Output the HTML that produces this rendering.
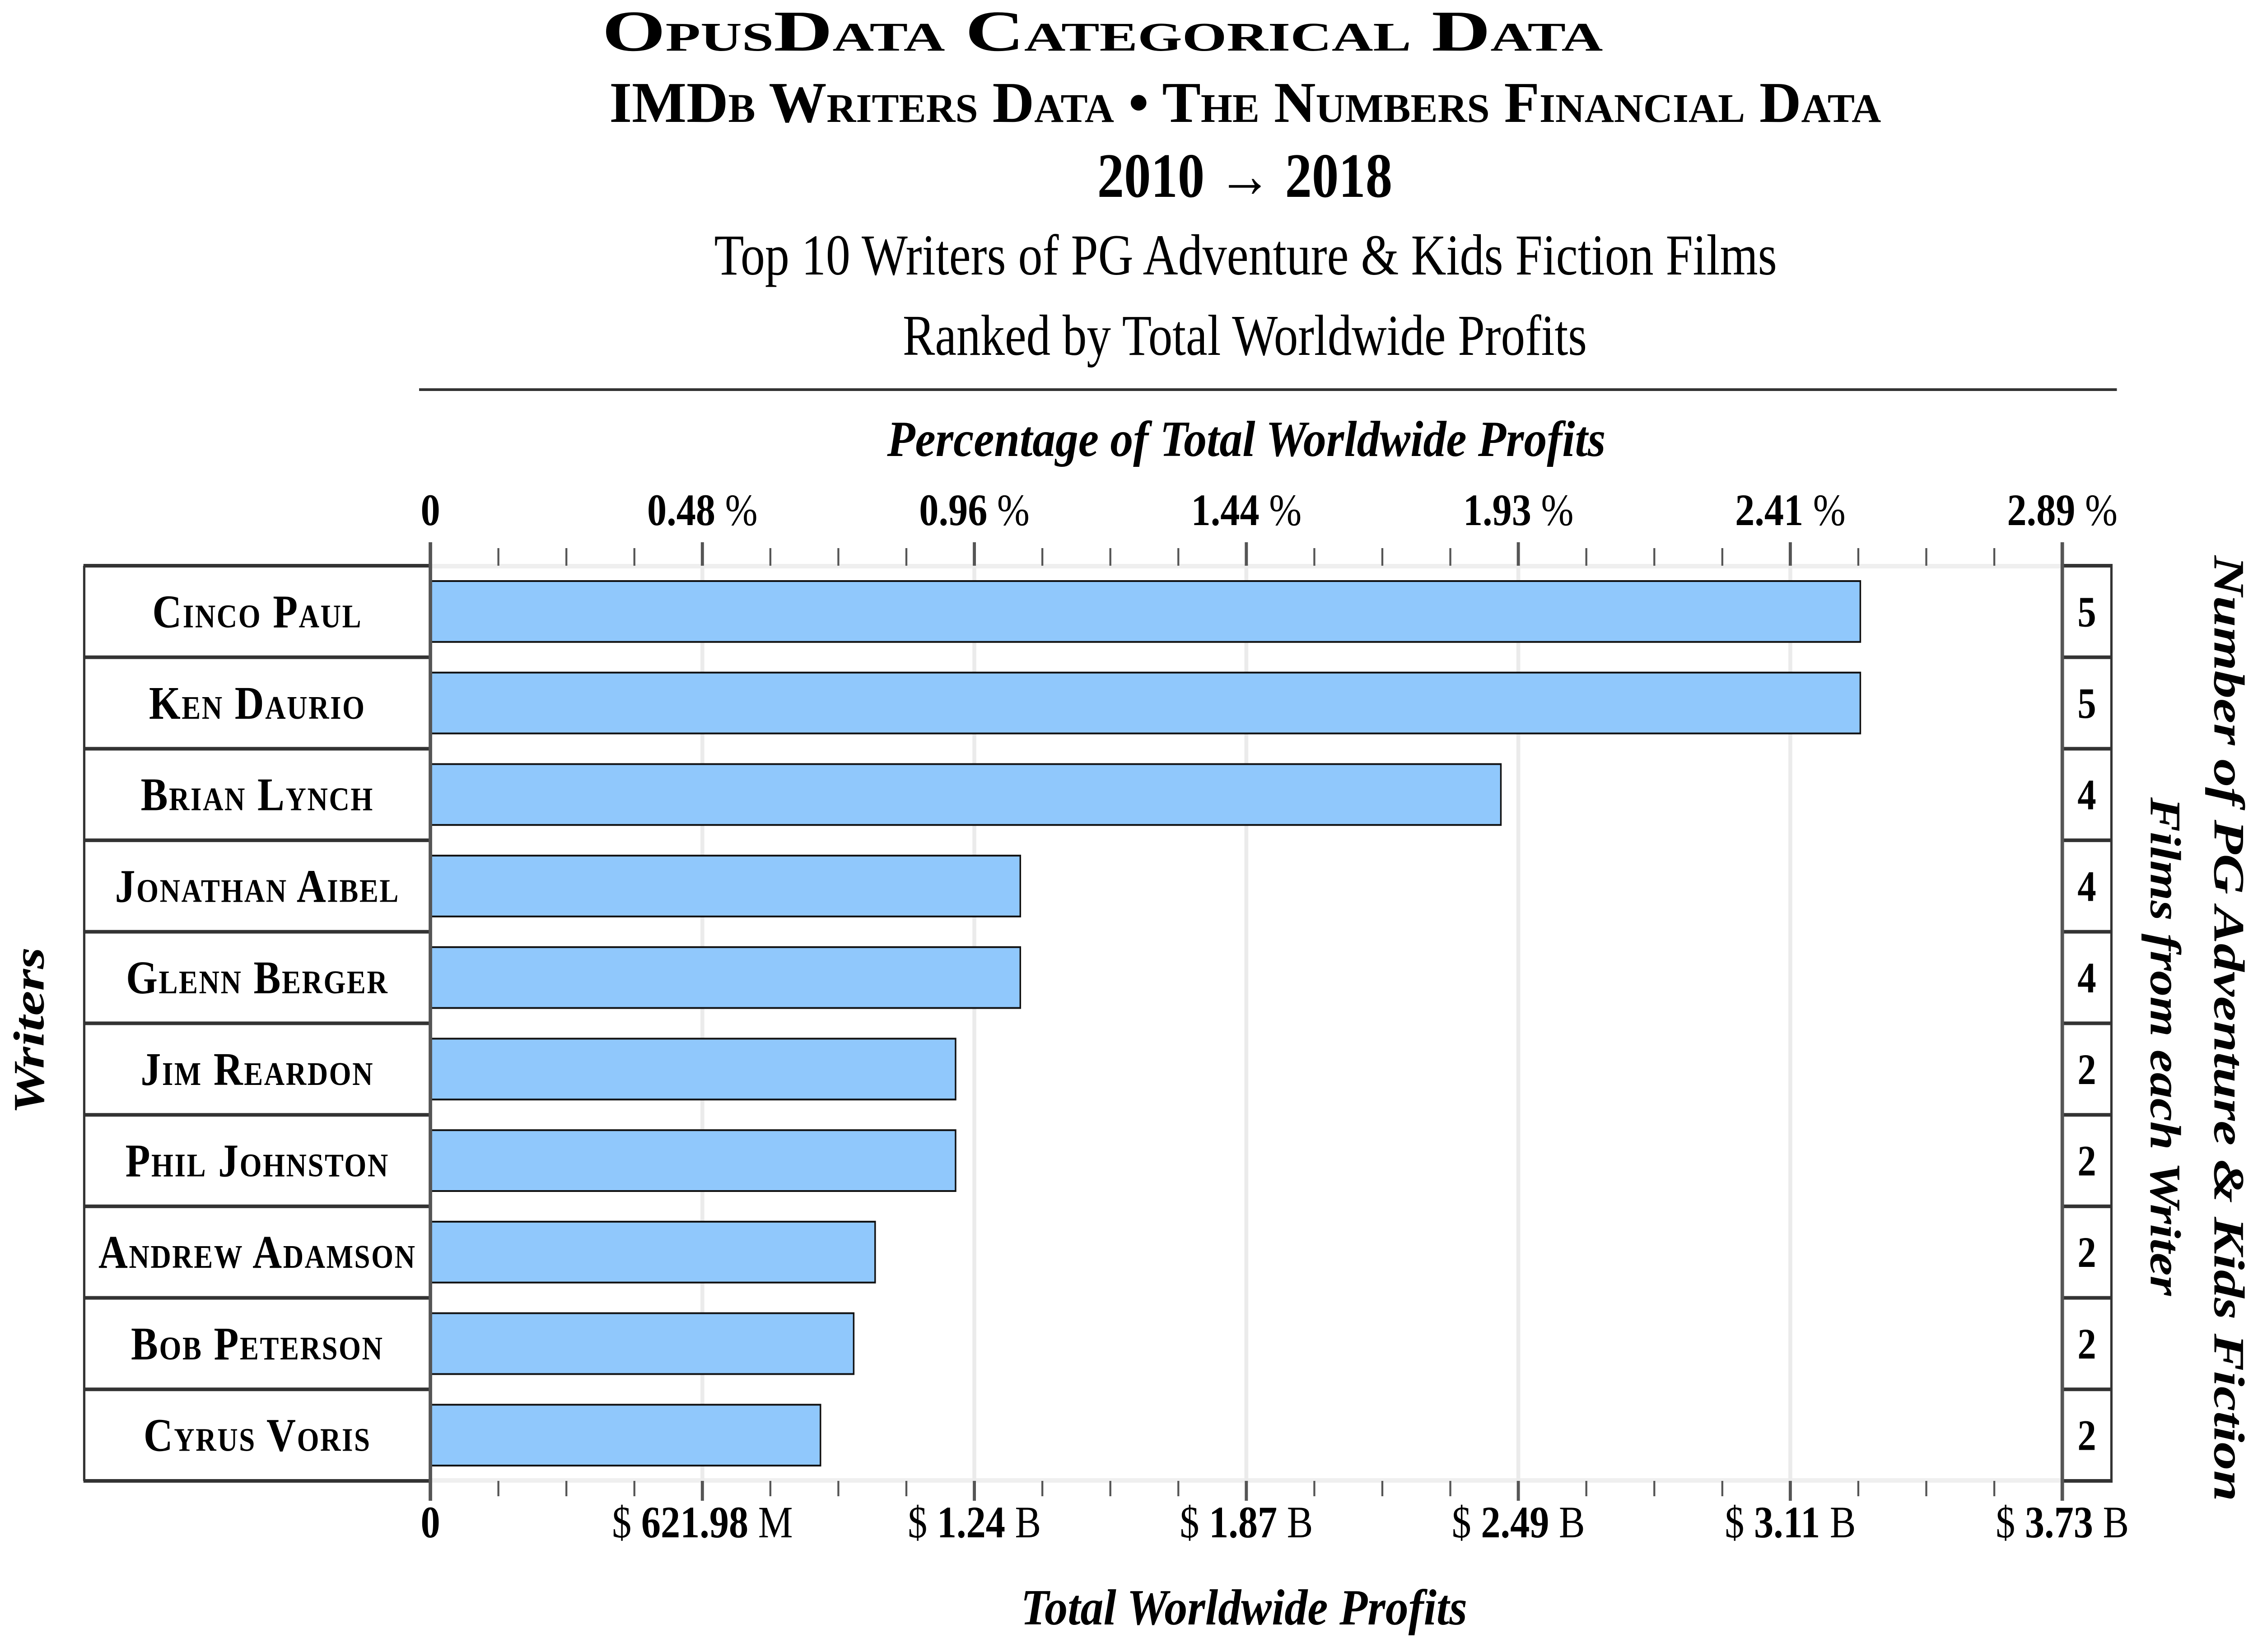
<!DOCTYPE html>
<html><head><meta charset="utf-8"><style>
html,body{margin:0;padding:0;background:#fff;overflow:hidden;width:100vw;height:100vh}
svg{display:block;width:100vw;height:100vh}
text{font-family:"Liberation Serif",serif;fill:#000}
.sc{font-variant:small-caps;font-weight:bold}
</style></head><body>
<svg id="chart" xmlns="http://www.w3.org/2000/svg" viewBox="0 0 5792 3659" preserveAspectRatio="none">
<g>
<text class="sc" x="2828" y="112" font-size="128" text-anchor="middle" textLength="2567" lengthAdjust="spacingAndGlyphs">OpusData Categorical Data</text>
<text class="sc" x="3194" y="270" font-size="128" text-anchor="middle" textLength="3262" lengthAdjust="spacingAndGlyphs">IMDb Writers Data • The Numbers Financial Data</text>
<text x="3193" y="436" font-size="140" font-weight="bold" text-anchor="middle" textLength="757" lengthAdjust="spacingAndGlyphs">2010 → 2018</text>
<text x="3195" y="608" font-size="128" text-anchor="middle" textLength="2726" lengthAdjust="spacingAndGlyphs">Top 10 Writers of PG Adventure &amp; Kids Fiction Films</text>
<text x="3193" y="786" font-size="128" text-anchor="middle" textLength="1755" lengthAdjust="spacingAndGlyphs">Ranked by Total Worldwide Profits</text>
<line x1="1075" y1="863" x2="5430" y2="863" stroke="#333" stroke-width="6"/>
<text x="3197" y="1010" font-size="112" font-weight="bold" font-style="italic" text-anchor="middle" textLength="1843" lengthAdjust="spacingAndGlyphs">Percentage of Total Worldwide Profits</text>
<text x="3191" y="3598" font-size="112" font-weight="bold" font-style="italic" text-anchor="middle" textLength="1145" lengthAdjust="spacingAndGlyphs">Total Worldwide Profits</text>
<text transform="translate(112,2283) rotate(-90)" font-size="112" font-weight="bold" font-style="italic" text-anchor="middle" textLength="370" lengthAdjust="spacingAndGlyphs">Writers</text>
<text transform="translate(5680,2278) rotate(90)" font-size="112" font-weight="bold" font-style="italic" text-anchor="middle" textLength="2095" lengthAdjust="spacingAndGlyphs">Number of PG Adventure &amp; Kids Fiction</text>
<text transform="translate(5517,2318) rotate(90)" font-size="112" font-weight="bold" font-style="italic" text-anchor="middle" textLength="1104" lengthAdjust="spacingAndGlyphs">Films from each Writer</text>
</g>
<g id="plot"></g>
</svg>
<script>
const writers = ["Cinco Paul","Ken Daurio","Brian Lynch","Jonathan Aibel","Glenn Berger","Jim Reardon","Phil Johnston","Andrew Adamson","Bob Peterson","Cyrus Voris"];
const profitsM = [3270,3270,2448,1349,1349,1201,1201,1017,968,892];
const filmCounts = [5,5,4,4,4,2,2,2,2,2];
const bottomTickValuesM = [0,621.98,1243.96,1865.94,2487.92,3109.9,3731.88];
const bottomTickNums = ["0","621.98","1.24","1.87","2.49","3.11","3.73"];
const bottomTickUnits = ["","M","B","B","B","B","B"];
const topTickLabels = ["0","0.48","0.96","1.44","1.93","2.41","2.89"];

const NS="http://www.w3.org/2000/svg";
const g=document.getElementById('plot');
const X0=1104, X1=5290, TOP=1253, BOT=3280, LT=216, RT=5416;
const maxV=bottomTickValuesM[bottomTickValuesM.length-1];
const xs=v=>X0+(v/maxV)*(X1-X0);
const rowH=(BOT-TOP)/writers.length;
const ys=i=>TOP+i*rowH;
function mk(tag,attrs,txt){const e=document.createElementNS(NS,tag);for(const k in attrs)e.setAttribute(k,attrs[k]);if(txt!==undefined)e.textContent=txt;g.appendChild(e);return e;}

let e=mk('rect',{x:X0,y:TOP-4,width:X1-X0,height:10,fill:'#efefef'});


e=mk('rect',{x:X0,y:BOT-6,width:X1-X0,height:10,fill:'#efefef'});


bottomTickValuesM.forEach((v,i)=>{if(i===0||i===bottomTickValuesM.length-1)return;
 const l=mk('line',{x1:xs(v),x2:xs(v),y1:TOP,y2:BOT,stroke:'#ebebeb','stroke-width':10});
 
 });
profitsM.forEach((v,i)=>{
 const b=mk('rect',{x:X0,y:ys(i)+34,width:xs(v)-X0,height:rowH*0.665,fill:'#90c8fc',stroke:'#111','stroke-width':4});
 
 
});
const nMaj=bottomTickValuesM.length-1;
for(let k=0;k<=nMaj*4;k++){
 const v=maxV*k/(nMaj*4), x=xs(v), maj=k%4===0;
 let t=mk('line',{x1:x,x2:x,y1:maj?1201:1214,y2:TOP,stroke:'#555','stroke-width':maj?8:5});
 
 
 t=mk('line',{x1:x,x2:x,y1:BOT,y2:maj?3324:3314,stroke:'#555','stroke-width':maj?8:5});
 
 
}
bottomTickValuesM.forEach((v,i)=>{
 const x=xs(v);
 const tt=mk('text',{x:x,y:1163,'font-size':100,'text-anchor':'middle'});
 
 
 if(i===0){tt.innerHTML='<tspan font-weight="bold">0</tspan>';}
 else tt.innerHTML='<tspan font-weight="bold">'+topTickLabels[i]+'</tspan><tspan> %</tspan>';
 const bt=mk('text',{x:x,y:3405,'font-size':100,'text-anchor':'middle'});
 
 
 if(i===0)bt.innerHTML='<tspan font-weight="bold">0</tspan>';
 else bt.innerHTML='<tspan>$ </tspan><tspan font-weight="bold">'+bottomTickNums[i]+'</tspan><tspan> '+bottomTickUnits[i]+'</tspan>';
});
writers.forEach((w,i)=>{
 const y=ys(i);
 const t=mk('text',{x:(LT+X0)/2,y:y+rowH/2+35,'font-size':104,'letter-spacing':3,'text-anchor':'middle',class:'sc'},w);
 
 
 const c=mk('text',{x:(X1+RT)/2,y:y+rowH/2+33,'font-size':96,'font-weight':'bold','text-anchor':'middle'},String(filmCounts[i]));
 
 
});
for(let i=0;i<=writers.length;i++){
 const y=ys(i);
 let l=mk('line',{x1:LT-2,x2:X0,y1:y,y2:y,stroke:'#333','stroke-width':8});
 
 
 l=mk('line',{x1:X1,x2:RT+3,y1:y,y2:y,stroke:'#333','stroke-width':8});
 
 
}
let l=mk('line',{x1:LT,x2:LT,y1:TOP,y2:BOT,stroke:'#333','stroke-width':6});


l=mk('line',{x1:RT,x2:RT,y1:TOP,y2:BOT,stroke:'#333','stroke-width':6});


l=mk('line',{x1:X0,x2:X0,y1:1201,y2:3324,stroke:'#555','stroke-width':9});


l=mk('line',{x1:X1,x2:X1,y1:1201,y2:3324,stroke:'#555','stroke-width':9});


</script>
</body></html>
